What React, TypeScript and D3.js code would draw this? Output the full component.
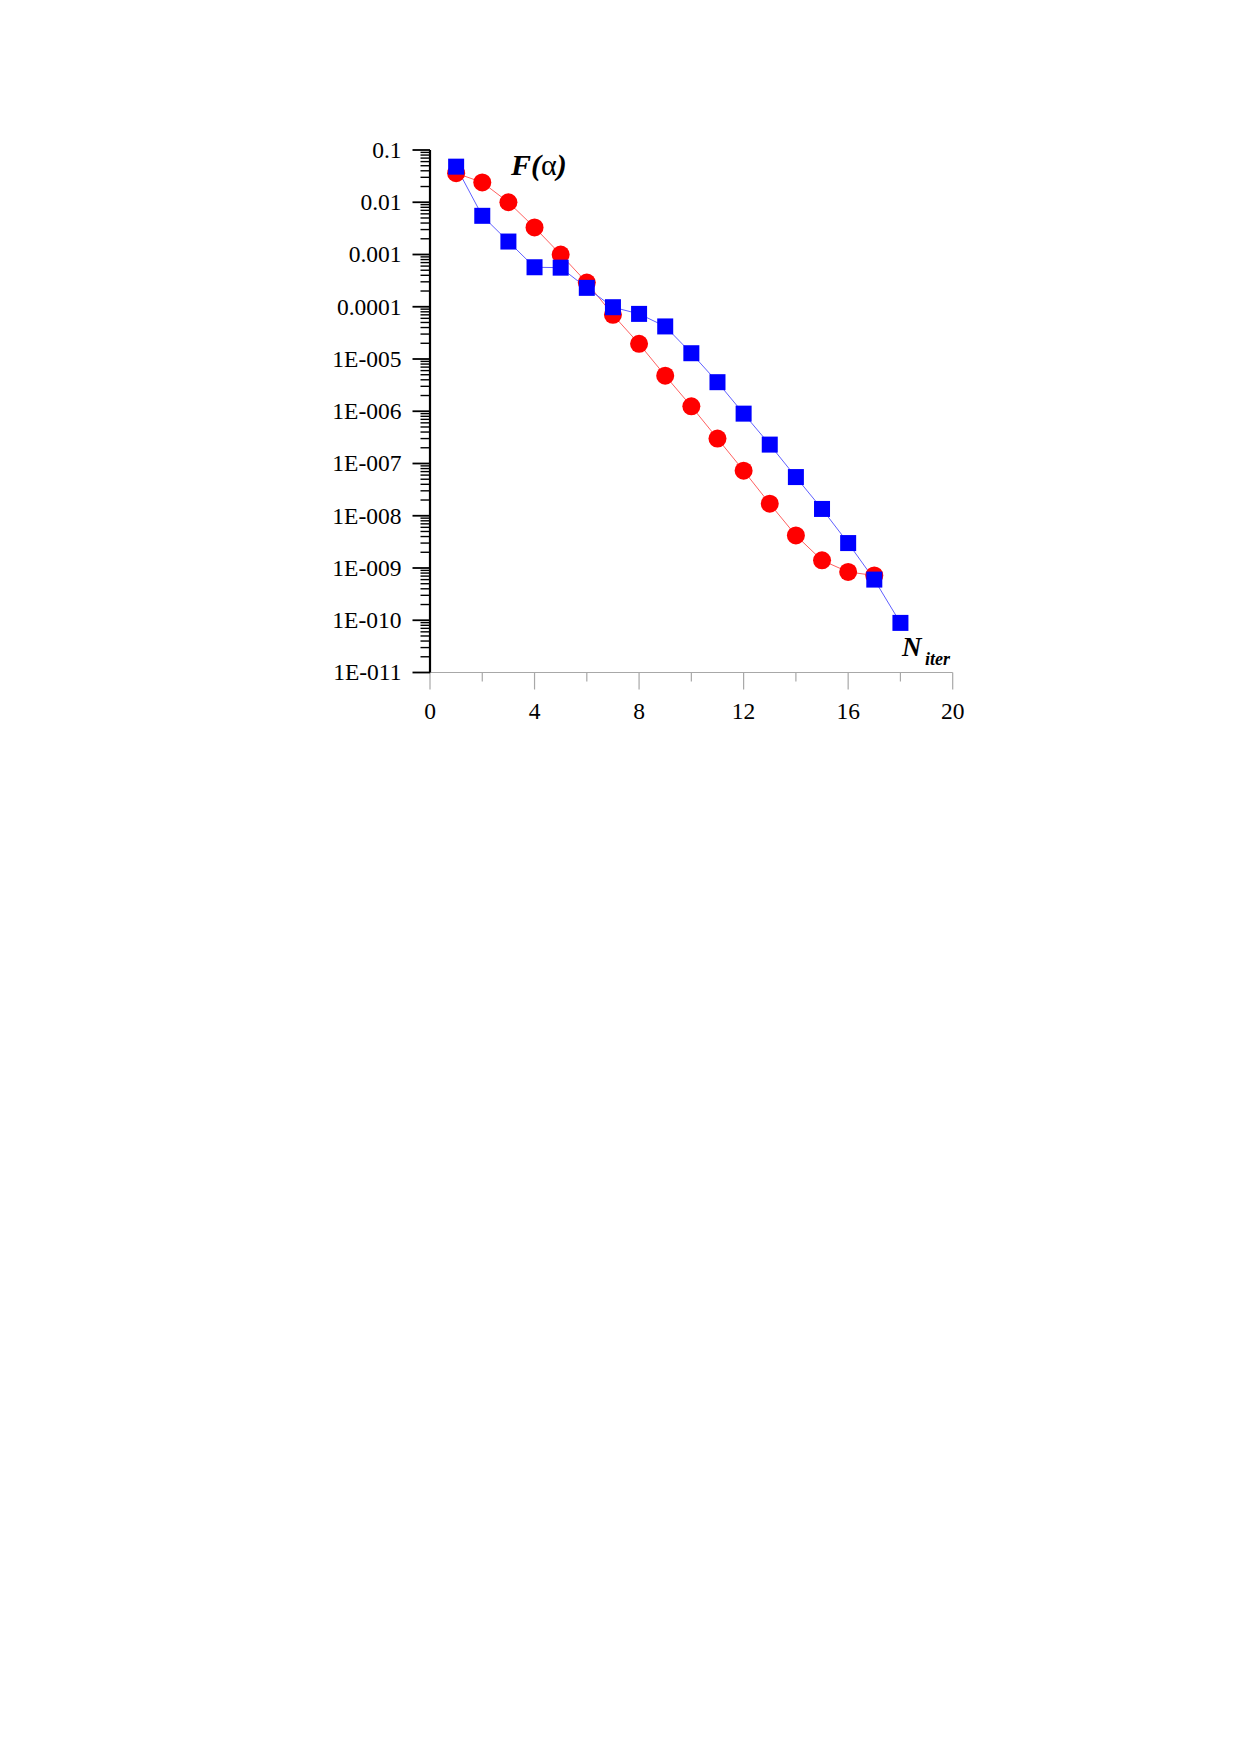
import { line, scaleLinear, scaleLog } from 'd3'

// iteration numbers and the two residual series
const iterRed = [1, 2, 3, 4, 5, 6, 7, 8, 9, 10, 11, 12, 13, 14, 15, 16, 17]
const residualRed = [
  3.6e-2, 2.4e-2, 1.0e-2, 3.3e-3, 1.0e-3, 2.9e-4, 7.0e-5, 1.95e-5, 4.8e-6, 1.24e-6, 3.0e-7,
  7.3e-8, 1.7e-8, 4.2e-9, 1.4e-9, 8.4e-10, 7.2e-10,
]

const iterBlue = [1, 2, 3, 4, 5, 6, 7, 8, 9, 10, 11, 12, 13, 14, 15, 16, 17, 18]
const residualBlue = [
  4.8e-2, 5.5e-3, 1.77e-3, 5.7e-4, 5.6e-4, 2.3e-4, 9.8e-5, 7.3e-5, 4.2e-5, 1.29e-5, 3.6e-6,
  9.0e-7, 2.3e-7, 5.5e-8, 1.35e-8, 3.0e-9, 6.0e-10, 8.9e-11,
]

const yTickValues = [1e-1, 1e-2, 1e-3, 1e-4, 1e-5, 1e-6, 1e-7, 1e-8, 1e-9, 1e-10, 1e-11]
const yTickLabels = [
  '0.1',
  '0.01',
  '0.001',
  '0.0001',
  '1E-005',
  '1E-006',
  '1E-007',
  '1E-008',
  '1E-009',
  '1E-010',
  '1E-011',
]
const xMajorTicks = [0, 4, 8, 12, 16, 20]
const xMinorTicks = [2, 6, 10, 14, 18]

const width = 1239
const height = 1752
const font = '"Liberation Serif", "Times New Roman", serif'

const xScale = scaleLinear().domain([0, 20]).range([430, 952.7])
const yScale = scaleLog().domain([1e-11, 0.1]).range([672.5, 150])

const minorY: number[] = []
for (let k = -11; k <= -2; k++) {
  for (let m = 2; m <= 9; m++) minorY.push(m * Math.pow(10, k))
}

type Pt = [number, number]

const pathOf = line<Pt>()
  .x((d) => xScale(d[0]))
  .y((d) => yScale(d[1]))

function App() {
  const redPts: Pt[] = iterRed.map((x, i) => [x, residualRed[i]])
  const bluePts: Pt[] = iterBlue.map((x, i) => [x, residualBlue[i]])
  const x0 = xScale(0)
  const yBottom = yScale(1e-11)

  return (
    <div style={{ position: 'absolute', left: 0, top: 0 }}>
      <svg width={width} height={height} viewBox={`0 0 ${width} ${height}`}>
        <rect width={width} height={height} fill="#fff" />

        {/* x axis (grey) */}
        <line x1={x0} y1={yBottom} x2={xScale(20)} y2={yBottom} stroke="#a8a8a8" strokeWidth={1.2} />
        {xMajorTicks.map((t) => (
          <line
            key={`xM${t}`}
            x1={xScale(t)}
            x2={xScale(t)}
            y1={yBottom}
            y2={yBottom + 17}
            stroke="#a8a8a8"
            strokeWidth={1.2}
          />
        ))}
        {xMinorTicks.map((t) => (
          <line
            key={`xm${t}`}
            x1={xScale(t)}
            x2={xScale(t)}
            y1={yBottom}
            y2={yBottom + 9}
            stroke="#a8a8a8"
            strokeWidth={1.2}
          />
        ))}
        {xMajorTicks.map((t) => (
          <text
            key={`xl${t}`}
            x={xScale(t)}
            y={718.5}
            textAnchor="middle"
            fontFamily={font}
            fontSize={23.5}
            fill="#000"
          >
            {t}
          </text>
        ))}

        {/* y axis (black) */}
        <line x1={x0} y1={yScale(0.1)} x2={x0} y2={yBottom} stroke="#000" strokeWidth={2.2} />
        {minorY.map((v) => (
          <line
            key={`ym${v}`}
            x1={x0 - 9.5}
            x2={x0}
            y1={yScale(v)}
            y2={yScale(v)}
            stroke="#000"
            strokeWidth={1.4}
          />
        ))}
        {yTickValues.map((v, i) => (
          <g key={`yM${i}`}>
            <line x1={x0 - 17.5} x2={x0} y1={yScale(v)} y2={yScale(v)} stroke="#000" strokeWidth={1.8} />
            <text
              x={401.5}
              y={yScale(v)}
              dy="0.33em"
              textAnchor="end"
              fontFamily={font}
              fontSize={23.5}
              fill="#000"
            >
              {yTickLabels[i]}
            </text>
          </g>
        ))}

        {/* series lines */}
        <path d={pathOf(redPts) ?? ''} fill="none" stroke="#ff6060" strokeWidth={1} />
        <path d={pathOf(bluePts) ?? ''} fill="none" stroke="#6060ff" strokeWidth={1} />

        {redPts.map((d) => (
          <circle key={`r${d[0]}`} cx={xScale(d[0])} cy={yScale(d[1])} r={9} fill="#ff0000" />
        ))}
        {bluePts.map((d) => (
          <rect
            key={`b${d[0]}`}
            x={xScale(d[0]) - 8}
            y={yScale(d[1]) - 8}
            width={16}
            height={16}
            fill="#0000ff"
          />
        ))}

        {/* axis titles */}
        <text x={511} y={175} fontFamily={font} fontSize={30} fontWeight="bold" fontStyle="italic" fill="#000">
          <tspan>F(</tspan>
          <tspan fontStyle="normal" fontWeight="normal">
            α
          </tspan>
          <tspan>)</tspan>
        </text>
        <text x={902} y={656} fontFamily={font} fontSize={27} fontWeight="bold" fontStyle="italic" fill="#000">
          N
        </text>
        <text x={925} y={665} fontFamily={font} fontSize={18} fontWeight="bold" fontStyle="italic" fill="#000">
          iter
        </text>
      </svg>
    </div>
  )
}

export default App
